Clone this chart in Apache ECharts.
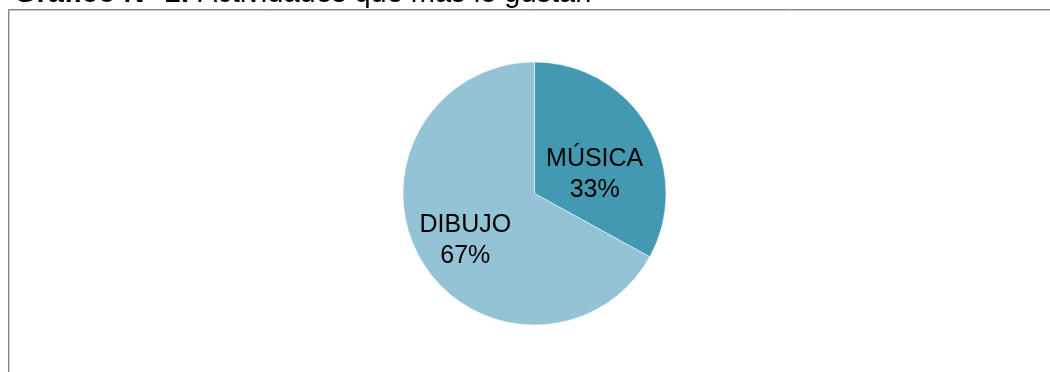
<!DOCTYPE html>
<html>
<head>
<meta charset="utf-8">
<style>
  html, body { margin: 0; padding: 0; background: #ffffff; }
  #chart { width: 1050px; height: 372px; }
</style>
<script src="https://cdn.jsdelivr.net/npm/echarts@6/dist/echarts.min.js"></script>
</head>
<body>
<div id="chart"></div>
<script>
// Activities the children like most
const categories = ['MÚSICA', 'DIBUJO'];
const shares = [33, 67];
const sliceColors = ['#4399b1', '#93c3d4'];
const titleBold = 'Gráfico N° 1:';
const titleText = ' Actividades que más le gustan';

// per-slice nudges of the inside labels
const labelOffsets = [[1, 16], [-10, 12]];

const chart = echarts.init(document.getElementById('chart'), null, { renderer: 'canvas' });

chart.setOption({
  animation: false,
  backgroundColor: '#ffffff',
  title: {
    text: '{b|' + titleBold + '}{n|' + titleText + '}',
    left: 14,
    top: -21,
    padding: 0,
    textStyle: {
      rich: {
        b: { fontFamily: 'Liberation Sans, Arial, sans-serif', fontWeight: 'bold', fontSize: 29, color: '#000', lineHeight: 30 },
        n: { fontFamily: 'Liberation Sans, Arial, sans-serif', fontWeight: 'normal', fontSize: 29, color: '#000', lineHeight: 30 }
      }
    }
  },
  graphic: [
    {
      type: 'rect',
      silent: true,
      shape: { x: 8.5, y: 9.5, width: 1100, height: 420 },
      style: { fill: null, stroke: '#858585', lineWidth: 1 }
    },
    {
      type: 'rect',
      silent: true,
      shape: { x: 9.5, y: 10.5, width: 1100, height: 420 },
      style: { fill: null, stroke: '#c8c8c8', lineWidth: 1 }
    }
  ],
  series: [
    {
      type: 'pie',
      center: [534.5, 193.5],
      radius: 131.5,
      startAngle: 90,
      clockwise: true,
      avoidLabelOverlap: false,
      emphasis: { disabled: true },
      itemStyle: { borderColor: '#ffffff', borderWidth: 0.5 },
      label: {
        show: true,
        position: 'inside',
        formatter: '{b}\n{d}%',
        fontFamily: 'Liberation Sans, Arial, sans-serif',
        fontSize: 25,
        lineHeight: 31,
        color: '#000000'
      },
      labelLine: { show: false },
      data: categories.map((name, i) => ({
        name: name,
        value: shares[i],
        itemStyle: { color: sliceColors[i] },
        label: { offset: labelOffsets[i] }
      }))
    }
  ]
});
</script>
</body>
</html>
